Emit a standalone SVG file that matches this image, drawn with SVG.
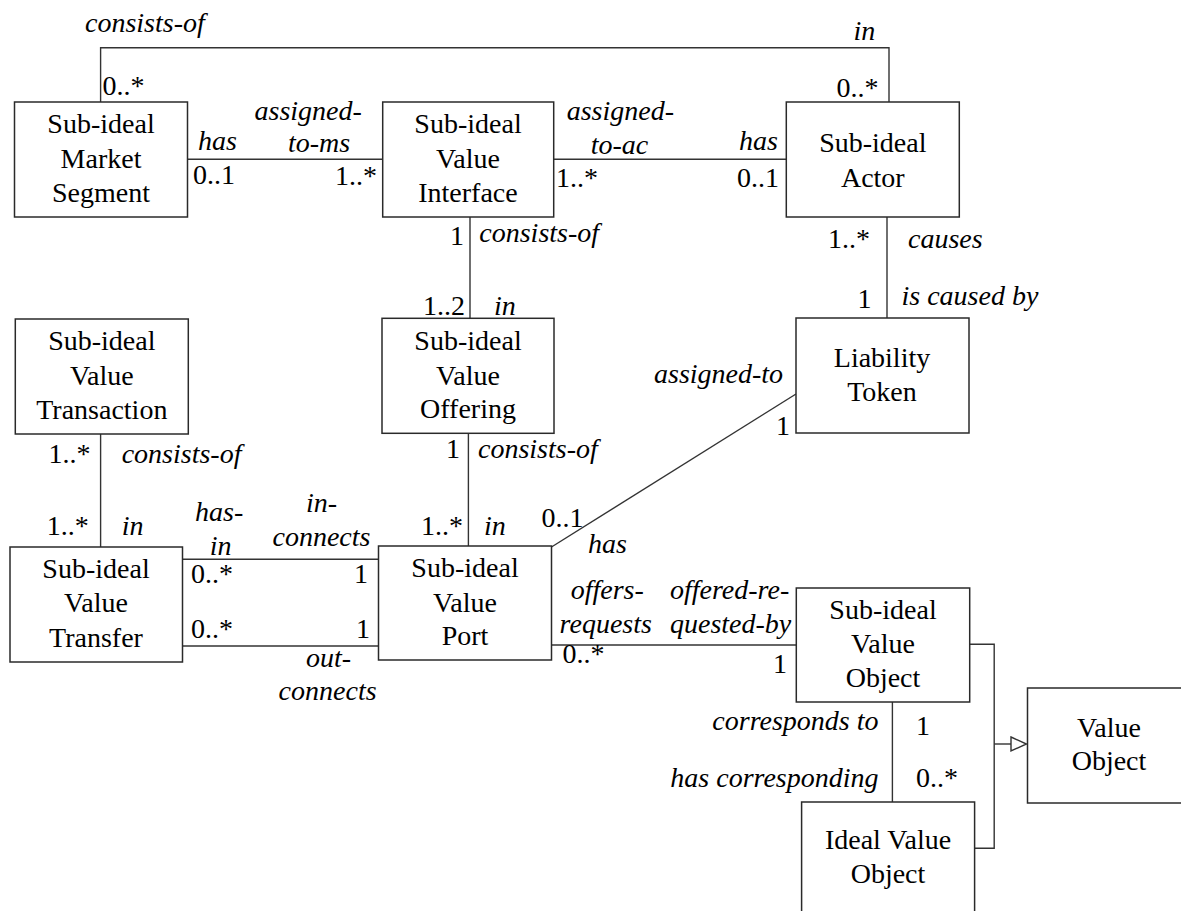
<svg xmlns="http://www.w3.org/2000/svg" width="1181" height="911" viewBox="0 0 1181 911">
<rect width="1181" height="911" fill="#fff"/>
<g id="connectors" fill="none" stroke="#333" stroke-width="1.4">
<polyline points="100.6,102 100.6,47.7 889,47.7 889,102"/>
<line x1="187.5" y1="159.3" x2="382.7" y2="159.3"/>
<line x1="553.7" y1="159.3" x2="786.3" y2="159.3"/>
<line x1="470" y1="217" x2="470" y2="318"/>
<line x1="887" y1="217" x2="887" y2="318"/>
<line x1="100.6" y1="434" x2="100.6" y2="547"/>
<line x1="468.4" y1="433" x2="468.4" y2="546"/>
<line x1="182.5" y1="559.3" x2="378.5" y2="559.3"/>
<line x1="182.5" y1="646" x2="378.5" y2="646"/>
<line x1="551.5" y1="547" x2="796" y2="394"/>
<line x1="551.5" y1="645" x2="796.3" y2="645"/>
<line x1="892.4" y1="702" x2="892.4" y2="802"/>
<polyline points="969.7,644.3 994.2,644.3 994.2,848.3 974.6,848.3"/>
<line x1="994.2" y1="744" x2="1011" y2="744"/>
<polygon points="1011,737 1026.5,744 1011,751" fill="#fff"/>
</g>
<text font-family="Times New Roman" font-size="28" font-style="italic" x="85" y="32">consists-of</text>
<text font-family="Times New Roman" font-size="28" font-style="italic" x="853.6" y="40">in</text>
<text font-family="Times New Roman" font-size="28" x="102.6" y="95">0..*</text>
<text font-family="Times New Roman" font-size="28" text-anchor="end" x="878.5" y="97">0..*</text>
<text font-family="Times New Roman" font-size="28" font-style="italic" x="198" y="150">has</text>
<text font-family="Times New Roman" font-size="28" x="193" y="184">0..1</text>
<text font-family="Times New Roman" font-size="28" font-style="italic" x="254.5" y="120">assigned-</text>
<text font-family="Times New Roman" font-size="28" font-style="italic" x="288" y="152">to-ms</text>
<text font-family="Times New Roman" font-size="28" text-anchor="end" x="377" y="185">1..*</text>
<text font-family="Times New Roman" font-size="28" font-style="italic" text-anchor="end" x="674" y="120">assigned-</text>
<text font-family="Times New Roman" font-size="28" font-style="italic" x="590.7" y="154">to-ac</text>
<text font-family="Times New Roman" font-size="28" x="556" y="187">1..*</text>
<text font-family="Times New Roman" font-size="28" font-style="italic" x="739" y="150">has</text>
<text font-family="Times New Roman" font-size="28" x="737" y="187">0..1</text>
<text font-family="Times New Roman" font-size="28" x="450" y="245">1</text>
<text font-family="Times New Roman" font-size="28" font-style="italic" x="479.3" y="242">consists-of</text>
<text font-family="Times New Roman" font-size="28" x="423" y="315">1..2</text>
<text font-family="Times New Roman" font-size="28" font-style="italic" x="494" y="315">in</text>
<text font-family="Times New Roman" font-size="28" x="828" y="248">1..*</text>
<text font-family="Times New Roman" font-size="28" font-style="italic" x="908" y="248">causes</text>
<text font-family="Times New Roman" font-size="28" x="857.5" y="308">1</text>
<text font-family="Times New Roman" font-size="28" font-style="italic" x="901.5" y="305">is caused by</text>
<text font-family="Times New Roman" font-size="28" x="48.6" y="463">1..*</text>
<text font-family="Times New Roman" font-size="28" font-style="italic" x="121.7" y="463">consists-of</text>
<text font-family="Times New Roman" font-size="28" x="46.7" y="535">1..*</text>
<text font-family="Times New Roman" font-size="28" font-style="italic" x="121.7" y="535">in</text>
<text font-family="Times New Roman" font-size="28" x="446" y="458">1</text>
<text font-family="Times New Roman" font-size="28" font-style="italic" x="478" y="458">consists-of</text>
<text font-family="Times New Roman" font-size="28" x="421" y="535">1..*</text>
<text font-family="Times New Roman" font-size="28" font-style="italic" x="484" y="535">in</text>
<text font-family="Times New Roman" font-size="28" font-style="italic" x="654" y="383">assigned-to</text>
<text font-family="Times New Roman" font-size="28" x="776" y="435">1</text>
<text font-family="Times New Roman" font-size="28" x="541.5" y="527">0..1</text>
<text font-family="Times New Roman" font-size="28" font-style="italic" x="588" y="553">has</text>
<text font-family="Times New Roman" font-size="28" font-style="italic" x="195" y="521">has-</text>
<text font-family="Times New Roman" font-size="28" font-style="italic" x="209.7" y="555">in</text>
<text font-family="Times New Roman" font-size="28" font-style="italic" x="306" y="512">in-</text>
<text font-family="Times New Roman" font-size="28" font-style="italic" x="272.5" y="546">connects</text>
<text font-family="Times New Roman" font-size="28" x="191" y="583">0..*</text>
<text font-family="Times New Roman" font-size="28" x="354" y="583">1</text>
<text font-family="Times New Roman" font-size="28" x="191" y="638">0..*</text>
<text font-family="Times New Roman" font-size="28" x="356" y="638">1</text>
<text font-family="Times New Roman" font-size="28" font-style="italic" x="306" y="667">out-</text>
<text font-family="Times New Roman" font-size="28" font-style="italic" x="278.6" y="700">connects</text>
<text font-family="Times New Roman" font-size="28" font-style="italic" x="570.7" y="599">offers-</text>
<text font-family="Times New Roman" font-size="28" font-style="italic" x="559.6" y="633">requests</text>
<text font-family="Times New Roman" font-size="28" font-style="italic" x="670" y="599">offered-re-</text>
<text font-family="Times New Roman" font-size="28" font-style="italic" x="670" y="633">quested-by</text>
<text font-family="Times New Roman" font-size="28" x="562.5" y="663">0..*</text>
<text font-family="Times New Roman" font-size="28" x="773" y="673">1</text>
<text font-family="Times New Roman" font-size="28" font-style="italic" text-anchor="end" x="878.5" y="730">corresponds to</text>
<text font-family="Times New Roman" font-size="28" x="916" y="735">1</text>
<text font-family="Times New Roman" font-size="28" font-style="italic" text-anchor="end" x="878.5" y="787">has corresponding</text>
<text font-family="Times New Roman" font-size="28" x="916" y="787">0..*</text>
<g id="market-segment"><rect x="14.5" y="102" width="173" height="115" fill="#fff" stroke="#2a2a2a" stroke-width="1.5"/><text font-family="Times New Roman" font-size="28" text-anchor="middle" x="101" y="133.3">Sub-ideal</text><text font-family="Times New Roman" font-size="28" text-anchor="middle" x="101" y="168.3">Market</text><text font-family="Times New Roman" font-size="28" text-anchor="middle" x="101" y="201.7">Segment</text></g>
<g id="value-interface"><rect x="382.7" y="102" width="171" height="115" fill="#fff" stroke="#2a2a2a" stroke-width="1.5"/><text font-family="Times New Roman" font-size="28" text-anchor="middle" x="468" y="133.3">Sub-ideal</text><text font-family="Times New Roman" font-size="28" text-anchor="middle" x="468" y="168.3">Value</text><text font-family="Times New Roman" font-size="28" text-anchor="middle" x="468" y="201.7">Interface</text></g>
<g id="actor"><rect x="786.3" y="102" width="173" height="115" fill="#fff" stroke="#2a2a2a" stroke-width="1.5"/><text font-family="Times New Roman" font-size="28" text-anchor="middle" x="872.8" y="151.7">Sub-ideal</text><text font-family="Times New Roman" font-size="28" text-anchor="middle" x="872.8" y="186.7">Actor</text></g>
<g id="value-transaction"><rect x="15.3" y="319" width="173" height="115" fill="#fff" stroke="#2a2a2a" stroke-width="1.5"/><text font-family="Times New Roman" font-size="28" text-anchor="middle" x="101.8" y="350">Sub-ideal</text><text font-family="Times New Roman" font-size="28" text-anchor="middle" x="101.8" y="385">Value</text><text font-family="Times New Roman" font-size="28" text-anchor="middle" x="101.8" y="419.3">Transaction</text></g>
<g id="value-offering"><rect x="382" y="318.3" width="172" height="115" fill="#fff" stroke="#2a2a2a" stroke-width="1.5"/><text font-family="Times New Roman" font-size="28" text-anchor="middle" x="468" y="350">Sub-ideal</text><text font-family="Times New Roman" font-size="28" text-anchor="middle" x="468" y="385">Value</text><text font-family="Times New Roman" font-size="28" text-anchor="middle" x="468" y="418.3">Offering</text></g>
<g id="liability-token"><rect x="796" y="318" width="173" height="115" fill="#fff" stroke="#2a2a2a" stroke-width="1.5"/><text font-family="Times New Roman" font-size="28" text-anchor="middle" x="882" y="366.7">Liability</text><text font-family="Times New Roman" font-size="28" text-anchor="middle" x="882" y="400.7">Token</text></g>
<g id="value-transfer"><rect x="10" y="547" width="172.5" height="115" fill="#fff" stroke="#2a2a2a" stroke-width="1.5"/><text font-family="Times New Roman" font-size="28" text-anchor="middle" x="96" y="578.3">Sub-ideal</text><text font-family="Times New Roman" font-size="28" text-anchor="middle" x="96" y="611.7">Value</text><text font-family="Times New Roman" font-size="28" text-anchor="middle" x="96" y="646.7">Transfer</text></g>
<g id="value-port"><rect x="378.5" y="546" width="173" height="114" fill="#fff" stroke="#2a2a2a" stroke-width="1.5"/><text font-family="Times New Roman" font-size="28" text-anchor="middle" x="465" y="576.7">Sub-ideal</text><text font-family="Times New Roman" font-size="28" text-anchor="middle" x="465" y="611.7">Value</text><text font-family="Times New Roman" font-size="28" text-anchor="middle" x="465" y="645">Port</text></g>
<g id="sub-ideal-value-object"><rect x="796.3" y="588" width="173.4" height="114" fill="#fff" stroke="#2a2a2a" stroke-width="1.5"/><text font-family="Times New Roman" font-size="28" text-anchor="middle" x="883" y="619">Sub-ideal</text><text font-family="Times New Roman" font-size="28" text-anchor="middle" x="883" y="653">Value</text><text font-family="Times New Roman" font-size="28" text-anchor="middle" x="883" y="687">Object</text></g>
<g id="value-object"><rect x="1027.5" y="688" width="180" height="115" fill="#fff" stroke="#2a2a2a" stroke-width="1.5"/><text font-family="Times New Roman" font-size="28" text-anchor="middle" x="1109" y="737">Value</text><text font-family="Times New Roman" font-size="28" text-anchor="middle" x="1109" y="770">Object</text></g>
<g id="ideal-value-object"><rect x="801.6" y="802" width="173" height="130" fill="#fff" stroke="#2a2a2a" stroke-width="1.5"/><text font-family="Times New Roman" font-size="28" text-anchor="middle" x="888" y="849">Ideal Value</text><text font-family="Times New Roman" font-size="28" text-anchor="middle" x="888" y="883">Object</text></g>
</svg>
